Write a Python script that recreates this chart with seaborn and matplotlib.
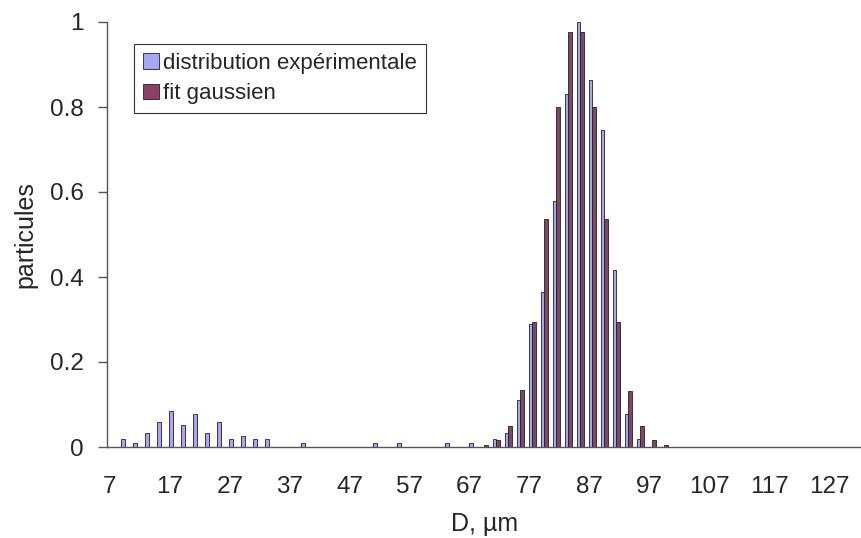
import numpy as np
import pandas as pd
import matplotlib
matplotlib.use("Agg")
import matplotlib.pyplot as plt
import seaborn as sns

# categories: particle diameter D (µm), step 2
D_values = list(range(7, 132, 2))

# experimental distribution (non-zero values, by D)
exp_D = [9, 11, 13, 15, 17, 19, 21, 23, 25, 27, 29, 31, 33, 39, 51, 55, 63, 67,
         71, 73, 75, 77, 79, 81, 83, 85, 87, 89, 91, 93, 95]
exp_val = [0.018, 0.009, 0.034, 0.060, 0.085, 0.052, 0.078, 0.034, 0.060, 0.018,
           0.027, 0.018, 0.018, 0.009, 0.009, 0.009, 0.009, 0.009,
           0.018, 0.034, 0.110, 0.289, 0.365, 0.578, 0.831, 1.000, 0.864, 0.747,
           0.417, 0.078, 0.018]

# gaussian fit
fit_D = [69, 71, 73, 75, 77, 79, 81, 83, 85, 87, 89, 91, 93, 95, 97, 99]
fit_val = [0.005, 0.016, 0.049, 0.133, 0.293, 0.536, 0.800, 0.977, 0.977, 0.800,
           0.536, 0.293, 0.132, 0.049, 0.016, 0.005]

series_names = ["distribution expérimentale", "fit gaussien"]
colors = ["#9999FF", "#993366"]

exp_map = dict(zip(exp_D, exp_val))
fit_map = dict(zip(fit_D, fit_val))
rows = []
for d in D_values:
    rows.append({"D": str(d), "series": series_names[0], "value": exp_map.get(d, 0.0)})
    rows.append({"D": str(d), "series": series_names[1], "value": fit_map.get(d, 0.0)})
df = pd.DataFrame(rows)

sns.set_style("white")
plt.rcParams["font.family"] = ["Liberation Sans", "DejaVu Sans"]

fig = plt.figure(figsize=(8.62, 5.38), dpi=100)
ax = fig.add_axes([107 / 862, 1 - 447 / 538, (862 - 107) / 862, (447 - 22) / 538])

sns.barplot(data=df, x="D", y="value", hue="series",
            order=[str(d) for d in D_values], hue_order=series_names,
            palette=colors, width=0.6, errorbar=None,
            edgecolor="#222222", linewidth=0.6, ax=ax)

n = len(D_values)
ax.set_xlim(-0.5, n - 0.5)
ax.set_ylim(0, 1)

# x ticks: marks at category boundaries, labels every 5 categories
bounds = [-0.5 + 5 * k for k in range(13)]
ax.set_xticks([b + 0.25 for b in bounds])
ax.set_xticklabels([str(D_values[5 * k]) for k in range(13)], fontsize=17.5)
ax.set_xticks(bounds, minor=True)
ax.tick_params(axis="x", which="major", length=0, pad=21)
ax.tick_params(axis="x", which="minor", length=6.5, width=1, color="#555555", direction="out")

ax.set_yticks([0, 0.2, 0.4, 0.6, 0.8, 1.0])
ax.set_yticklabels(["0", "0.2", "0.4", "0.6", "0.8", "1"], fontsize=17.5)
ax.tick_params(axis="y", length=6.5, width=1, color="#555555", direction="out", pad=10, left=True)

for s in ["top", "right"]:
    ax.spines[s].set_visible(False)
for s in ["left", "bottom"]:
    ax.spines[s].set_color("#555555")
    ax.spines[s].set_linewidth(1)

ax.set_xlabel("D, µm", fontsize=18, labelpad=10)
ax.set_ylabel("particules", fontsize=18, labelpad=9)

leg = ax.legend(loc="upper left", bbox_to_anchor=(0.0358, 0.948), fontsize=16,
                frameon=True, fancybox=False, edgecolor="black",
                handlelength=0.72, handleheight=0.72, handletextpad=0.18,
                borderpad=0.4, labelspacing=0.42, borderaxespad=0)
leg.get_frame().set_linewidth(0.8)

fig.savefig("out.png", dpi=100)
